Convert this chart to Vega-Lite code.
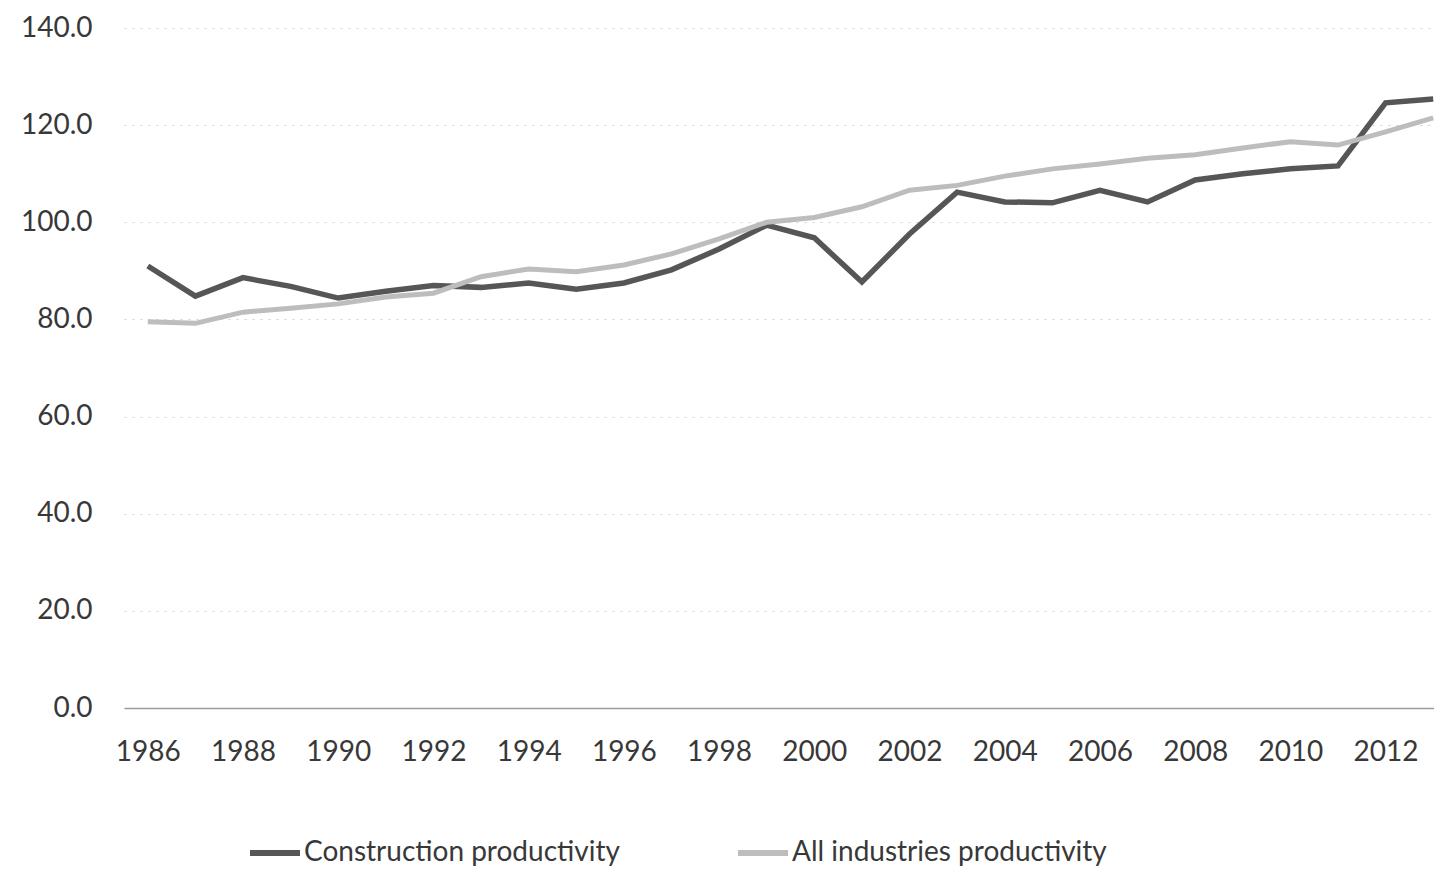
{
  "$schema": "https://vega.github.io/schema/vega-lite/v6.json",
  "autosize": {"type": "none"},
  "width": 1333,
  "height": 680,
  "padding": {"left": 124, "top": 28, "right": 0, "bottom": 167},
  "background": "white",
  "config": {
    "view": {"stroke": null},
    "font": "Lato",
    "axis": {"labelFont": "Lato", "labelColor": "#383838", "labelFontSize": 28}
  },
  "data": {
    "values": [
      {"year": 1986, "series": "Construction productivity", "value": 91.0},
      {"year": 1987, "series": "Construction productivity", "value": 84.8},
      {"year": 1988, "series": "Construction productivity", "value": 88.6},
      {"year": 1989, "series": "Construction productivity", "value": 86.8},
      {"year": 1990, "series": "Construction productivity", "value": 84.4},
      {"year": 1991, "series": "Construction productivity", "value": 85.8},
      {"year": 1992, "series": "Construction productivity", "value": 87.0},
      {"year": 1993, "series": "Construction productivity", "value": 86.6},
      {"year": 1994, "series": "Construction productivity", "value": 87.5},
      {"year": 1995, "series": "Construction productivity", "value": 86.2},
      {"year": 1996, "series": "Construction productivity", "value": 87.5},
      {"year": 1997, "series": "Construction productivity", "value": 90.2},
      {"year": 1998, "series": "Construction productivity", "value": 94.5},
      {"year": 1999, "series": "Construction productivity", "value": 99.4},
      {"year": 2000, "series": "Construction productivity", "value": 96.8},
      {"year": 2001, "series": "Construction productivity", "value": 87.7},
      {"year": 2002, "series": "Construction productivity", "value": 97.6},
      {"year": 2003, "series": "Construction productivity", "value": 106.2},
      {"year": 2004, "series": "Construction productivity", "value": 104.2},
      {"year": 2005, "series": "Construction productivity", "value": 104.0},
      {"year": 2006, "series": "Construction productivity", "value": 106.6},
      {"year": 2007, "series": "Construction productivity", "value": 104.2},
      {"year": 2008, "series": "Construction productivity", "value": 108.7},
      {"year": 2009, "series": "Construction productivity", "value": 110.0},
      {"year": 2010, "series": "Construction productivity", "value": 111.0},
      {"year": 2011, "series": "Construction productivity", "value": 111.6},
      {"year": 2012, "series": "Construction productivity", "value": 124.6},
      {"year": 2013, "series": "Construction productivity", "value": 125.4},
      {"year": 1986, "series": "All industries productivity", "value": 79.5},
      {"year": 1987, "series": "All industries productivity", "value": 79.2},
      {"year": 1988, "series": "All industries productivity", "value": 81.5},
      {"year": 1989, "series": "All industries productivity", "value": 82.3},
      {"year": 1990, "series": "All industries productivity", "value": 83.2},
      {"year": 1991, "series": "All industries productivity", "value": 84.6},
      {"year": 1992, "series": "All industries productivity", "value": 85.4},
      {"year": 1993, "series": "All industries productivity", "value": 88.8},
      {"year": 1994, "series": "All industries productivity", "value": 90.4},
      {"year": 1995, "series": "All industries productivity", "value": 89.8},
      {"year": 1996, "series": "All industries productivity", "value": 91.2},
      {"year": 1997, "series": "All industries productivity", "value": 93.5},
      {"year": 1998, "series": "All industries productivity", "value": 96.6},
      {"year": 1999, "series": "All industries productivity", "value": 100.0},
      {"year": 2000, "series": "All industries productivity", "value": 101.0},
      {"year": 2001, "series": "All industries productivity", "value": 103.2},
      {"year": 2002, "series": "All industries productivity", "value": 106.6},
      {"year": 2003, "series": "All industries productivity", "value": 107.6},
      {"year": 2004, "series": "All industries productivity", "value": 109.5},
      {"year": 2005, "series": "All industries productivity", "value": 111.0},
      {"year": 2006, "series": "All industries productivity", "value": 112.0},
      {"year": 2007, "series": "All industries productivity", "value": 113.2},
      {"year": 2008, "series": "All industries productivity", "value": 113.9},
      {"year": 2009, "series": "All industries productivity", "value": 115.3},
      {"year": 2010, "series": "All industries productivity", "value": 116.6},
      {"year": 2011, "series": "All industries productivity", "value": 115.9},
      {"year": 2012, "series": "All industries productivity", "value": 118.6},
      {"year": 2013, "series": "All industries productivity", "value": 121.5}
    ]
  },
  "encoding": {
    "x": {
      "field": "year", "type": "quantitative",
      "scale": {"domain": [1985.5, 2013.5], "nice": false, "zero": false},
      "axis": {
        "title": null,
        "values": [1986, 1988, 1990, 1992, 1994, 1996, 1998, 2000, 2002, 2004, 2006, 2008, 2010, 2012],
        "format": "d",
        "grid": false,
        "ticks": false,
        "domain": true,
        "domainColor": "#9a9a9a",
        "domainWidth": 1.5,
        "labelPadding": 30,
        "labelFlush": false
      }
    },
    "y": {
      "field": "value", "type": "quantitative",
      "scale": {"domain": [0, 140], "nice": false},
      "axis": {
        "title": null,
        "values": [0, 20, 40, 60, 80, 100, 120, 140],
        "format": ".1f",
        "domain": false,
        "ticks": false,
        "grid": true,
        "gridColor": "#d0d0d0",
        "gridDash": [2, 6],
        "gridWidth": 1,
        "labelPadding": 32
      }
    },
    "color": {
      "field": "series", "type": "nominal",
      "scale": {
        "domain": ["Construction productivity", "All industries productivity"],
        "range": ["#565656", "#bdbdbd"]
      },
      "legend": {
        "title": null,
        "orient": "none",
        "direction": "horizontal",
        "legendX": 123,
        "legendY": 797,
        "symbolType": "stroke",
        "symbolSize": 2500,
        "symbolStrokeWidth": 6,
        "labelFontSize": 28,
        "labelFont": "Lato",
        "labelColor": "#383838",
        "labelOffset": 1,
        "labelLimit": 0,
        "columnPadding": 106
      }
    }
  },
  "layer": [
    {
      "transform": [{"filter": "datum.series === 'Construction productivity'"}],
      "mark": {"type": "line", "strokeWidth": 5.5, "strokeJoin": "miter"}
    },
    {
      "transform": [{"filter": "datum.series === 'All industries productivity'"}],
      "mark": {"type": "line", "strokeWidth": 5}
    }
  ]
}
